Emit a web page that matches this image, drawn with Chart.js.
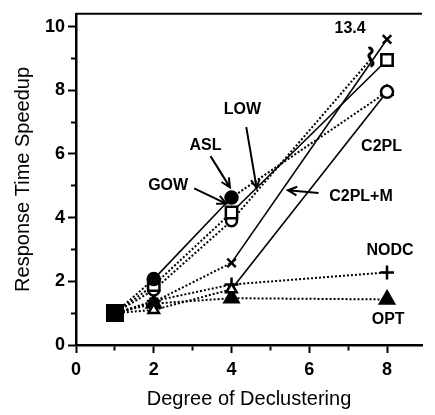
<!DOCTYPE html>
<html>
<head>
<meta charset="utf-8">
<script src="https://cdn.jsdelivr.net/npm/chart.js@4.4.1/dist/chart.umd.min.js"></script>
<style>
  html, body { margin: 0; padding: 0; background: #fff; }
</style>
</head>
<body>
<canvas id="speedup" width="435" height="415"></canvas>
<script>
// degree of declustering (x) and response time speedup per algorithm
const degrees = [1, 2, 4, 8];
const asl = [1, 2.07, 4.63, 7.95];
const gow = [1, 1.88, 4.16, 8.95];
const low = [1, 1.73, 3.9, 13.4];
const c2pl = [1, 1.35, 2.58, 9.6];
const c2plM = [1, 1.1, 1.75, 7.95];
const nodc = [1, 1.38, 1.9, 2.28];
const opt = [1, 1.3, 1.47, 1.43];

const xTickLabels = [0, 2, 4, 6, 8];
const yTickLabels = [0, 2, 4, 6, 8, 10];

// off-scale value is drawn up to the break mark
const yBreak = 10;
const breakMarkAt = { x: 7.6, y: 9.0 };

const FONT = "'Liberation Sans', Arial, sans-serif";

// marker look + which segments are solid (by index of first point)
const seriesStyle = [
  { name: "ASL", values: asl, style: "circle", r: 6, fill: "#000", lastFill: "#fff", solid: [1] },
  { name: "GOW", values: gow, style: "rect", r: 8, fill: "#fff", solid: [2] },
  { name: "LOW", values: low, style: "circle", r: 5.5, fill: "#fff", solid: [] },
  { name: "C2PL", values: c2pl, style: "crossRot", r: 6, fill: "#fff", solid: [2] },
  { name: "C2PL+M", values: c2plM, style: "triangle", r: 6, fill: "#fff", solid: [2] },
  { name: "NODC", values: nodc, style: "cross", r: 7, fill: "#fff", solid: [] },
  { name: "OPT", values: opt, style: "triangle", r: 8, fill: "#000", solid: [] },
];

const buildData = (values) =>
  values.map((v, i) => (v > yBreak ? { ...breakMarkAt } : { x: degrees[i], y: v }));

const datasets = seriesStyle.map((s) => ({
  label: s.name,
  data: buildData(s.values),
  borderColor: "#000",
  borderWidth: 2,
  pointStyle: s.values.map((v, i) => (i === 0 ? "rect" : s.style)),
  pointRadius: s.values.map((v, i) => (i === 0 ? 10.5 : v > yBreak ? 0 : s.r)),
  pointBackgroundColor: s.values.map((v, i) =>
    i === 0 ? "#000" : i === s.values.length - 1 && s.lastFill ? s.lastFill : s.fill
  ),
  pointBorderColor: "#000",
  pointBorderWidth: 2.5,
  tension: 0,
  clip: false,
  segment: {
    borderDash: (ctx) => (s.solid.includes(ctx.p0DataIndex) ? [] : [2, 2]),
    borderWidth: (ctx) => (s.solid.includes(ctx.p0DataIndex) ? 1.6 : 2),
  },
}));

// free text labels and arrows (data units)
const noteText = [String(low[3]), "LOW", "ASL", "GOW", "C2PL", "C2PL+M", "NODC", "OPT"];
const noteAt = [
  [7.05, 9.94], [4.28, 7.39], [3.33, 6.26], [2.37, 5.02],
  [7.86, 6.23], [7.33, 4.65], [8.08, 2.95], [8.03, 0.79],
];
const arrows = [
  [[3.46, 5.93], [3.96, 4.95]],
  [[4.38, 6.84], [4.65, 4.92]],
  [[3.04, 4.92], [3.86, 4.44]],
  [[6.24, 4.77], [5.45, 4.86]],
];

const notesPlugin = {
  id: "notes",
  afterDatasetsDraw(chart) {
    const { ctx, chartArea } = chart;
    const xs = chart.scales.x;
    const ys = chart.scales.y;
    const px = (p) => [xs.getPixelForValue(p[0]), ys.getPixelForValue(p[1])];
    ctx.save();

    // top frame line
    ctx.strokeStyle = "#000";
    ctx.lineWidth = 2;
    ctx.beginPath();
    ctx.moveTo(chartArea.left, chartArea.top);
    ctx.lineTo(chartArea.right, chartArea.top);
    ctx.stroke();

    // labels
    ctx.fillStyle = "#000";
    ctx.font = "bold 16px " + FONT;
    ctx.textAlign = "center";
    ctx.textBaseline = "middle";
    noteText.forEach((t, i) => {
      const [x, y] = px(noteAt[i]);
      ctx.fillText(t, x, y);
    });

    // arrows
    ctx.lineWidth = 2;
    arrows.forEach(([a, b]) => {
      const [x1, y1] = px(a);
      const [x2, y2] = px(b);
      const ang = Math.atan2(y2 - y1, x2 - x1);
      ctx.beginPath();
      ctx.moveTo(x1, y1);
      ctx.lineTo(x2, y2);
      ctx.moveTo(x2 - 10 * Math.cos(ang - 0.45), y2 - 10 * Math.sin(ang - 0.45));
      ctx.lineTo(x2, y2);
      ctx.lineTo(x2 - 10 * Math.cos(ang + 0.45), y2 - 10 * Math.sin(ang + 0.45));
      ctx.stroke();
    });

    // break mark on the off-scale line
    const [bx, by] = px([breakMarkAt.x, breakMarkAt.y]);
    ctx.lineWidth = 3;
    ctx.beginPath();
    ctx.moveTo(bx - 1, by + 8);
    ctx.bezierCurveTo(bx + 7, by + 4, bx - 7, by - 1, bx - 1, by - 5);
    ctx.bezierCurveTo(bx + 3, by - 8, bx - 1, by - 11, bx - 3, by - 10);
    ctx.stroke();

    ctx.restore();
  },
};

const minorDashX = (ctx) => (ctx.tick && ctx.tick.value % 2 ? [4, 100] : []);
const minorDashY = (ctx) => (ctx.tick && ctx.tick.value % 2 ? [0, 3, 10, 100] : []);
// one tick per whole unit from 0 up to the axis max
const wholeTicks = (scale) => {
  scale.ticks = Array.from({ length: Math.floor(scale.max) + 1 }, (_, i) => ({ value: i }));
};

new Chart(document.getElementById("speedup"), {
  type: "line",
  data: { datasets },
  options: {
    responsive: false,
    animation: false,
    layout: { padding: { top: 3, right: 1, left: 0, bottom: 0 } },
    plugins: { legend: { display: false }, tooltip: { enabled: false } },
    scales: {
      x: {
        type: "linear",
        min: 0,
        max: 8.9,
        afterBuildTicks: wholeTicks,
        afterFit: (s) => { s.height = 70; },
        border: { color: "#000", width: 2.5 },
        grid: {
          drawOnChartArea: false,
          tickLength: 8,
          tickWidth: 2,
          tickColor: "#000",
          tickBorderDash: minorDashX,
        },
        ticks: {
          autoSkip: false,
          maxRotation: 0,
          padding: 6,
          color: "#000",
          font: { family: FONT, size: 18, weight: "bold" },
          callback: (v) => (xTickLabels.includes(v) ? String(v) : ""),
        },
        title: {
          display: true,
          text: "Degree of Declustering",
          color: "#000",
          font: { family: FONT, size: 20 },
          padding: { top: 0, bottom: 4 },
        },
      },
      y: {
        min: 0,
        max: 10.4,
        afterBuildTicks: wholeTicks,
        afterFit: (s) => { s.width = 76; },
        border: { color: "#000", width: 2.5 },
        grid: {
          drawOnChartArea: false,
          tickLength: 8,
          tickWidth: 2,
          tickColor: "#000",
          tickBorderDash: minorDashY,
        },
        ticks: {
          autoSkip: false,
          padding: 3,
          color: "#000",
          font: { family: FONT, size: 18, weight: "bold" },
          callback: (v) => (yTickLabels.includes(v) ? String(v) : ""),
        },
        title: {
          display: true,
          text: "Response Time Speedup",
          color: "#000",
          font: { family: FONT, size: 20 },
          padding: { top: 11, bottom: 0 },
        },
      },
    },
  },
  plugins: [notesPlugin],
});
</script>
</body>
</html>
